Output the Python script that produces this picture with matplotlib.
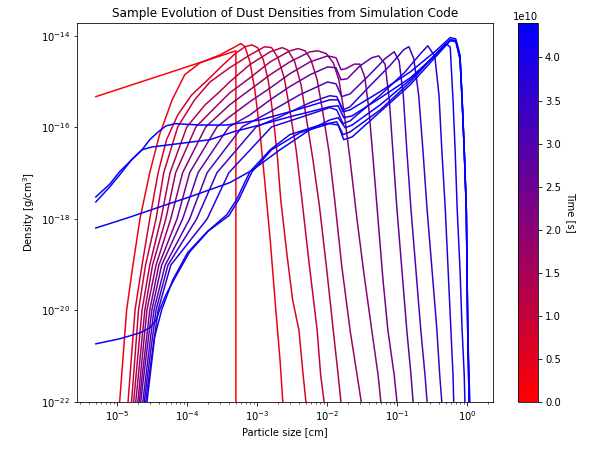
import numpy as np
import matplotlib
matplotlib.use("Agg")
import matplotlib.pyplot as plt
from matplotlib.colors import LinearSegmentedColormap, Normalize
from matplotlib.cm import ScalarMappable
from matplotlib.ticker import NullLocator

# snapshot times [s]
times = [0.0, 3.385e9, 6.77e9, 1.015e10, 1.354e10, 1.692e10, 2.031e10, 2.369e10, 2.708e10,
         3.046e10, 3.385e10, 3.723e10, 4.062e10, 4.2e10, 4.3e10, 4.35e10, 4.4e10]

log_a_00 = [-5.30, -3.30, -3.30]
log_rho_00 = [-15.33, -14.33, -23.0]

log_a_01 = [-4.96, -4.86, -4.77, -4.67, -4.53, -4.39, -4.21, -4.03, -3.81, -3.53, -3.31,
            -3.23, -3.17, -3.10, -3.03, -2.96, -2.89, -2.81, -2.73, -2.67, -2.63]
log_rho_01 = [-22.0, -19.99, -19.01, -18.0, -16.99, -16.16, -15.40, -14.85, -14.59, -14.42, -14.24,
              -14.17, -14.24, -14.57, -15.18, -16.05, -17.15, -18.46, -19.99, -21.08, -22.0]

log_a_02 = [-4.84, -4.74, -4.64, -4.53, -4.41, -4.29, -4.13, -3.93, -3.70, -3.50, -3.31, -3.17,
            -3.07, -2.99, -2.91, -2.84, -2.77, -2.71, -2.66, -2.57, -2.49, -2.40, -2.34, -2.30]
log_rho_02 = [-22.0, -19.99, -19.01, -18.0, -16.99, -16.27, -15.73, -15.29, -14.96, -14.66, -14.39, -14.24,
              -14.20, -14.26, -14.52, -14.96, -15.73, -16.60, -17.58, -18.79, -19.77, -20.43, -21.41, -22.0]

log_a_03 = [-4.79, -4.69, -4.59, -4.44, -4.33, -4.13, -3.89, -3.67, -3.39, -3.10, -2.89,
            -2.79, -2.70, -2.61, -2.53, -2.44, -2.36, -2.26, -2.14, -2.09, -2.04]
log_rho_03 = [-22.0, -19.99, -19.01, -18.0, -16.99, -15.99, -15.40, -15.01, -14.70, -14.42, -14.24,
              -14.26, -14.48, -14.92, -15.62, -16.49, -17.54, -18.90, -20.43, -21.41, -22.0]

log_a_04 = [-4.76, -4.64, -4.53, -4.37, -4.24, -4.00, -3.74, -3.53, -3.39, -3.10, -2.81,
            -2.64, -2.56, -2.46, -2.37, -2.29, -2.20, -2.11, -2.01, -1.91, -1.84, -1.80]
log_rho_04 = [-22.0, -19.99, -19.01, -18.0, -16.99, -15.99, -15.51, -15.22, -15.01, -14.63, -14.35,
              -14.26, -14.31, -14.57, -15.07, -15.84, -16.71, -17.69, -19.01, -20.43, -21.41, -22.0]

log_a_05 = [-4.73, -4.60, -4.49, -4.30, -4.16, -3.87, -3.60, -3.39, -3.10, -2.81, -2.53,
            -2.41, -2.31, -2.23, -2.14, -2.06, -1.97, -1.89, -1.79, -1.67, -1.57, -1.51]
log_rho_05 = [-22.0, -19.99, -19.01, -18.0, -16.99, -15.99, -15.57, -15.25, -14.92, -14.57, -14.33,
              -14.28, -14.33, -14.52, -14.96, -15.66, -16.54, -17.58, -19.01, -20.43, -21.41, -22.0]

log_a_06 = [-4.70, -4.57, -4.44, -4.23, -4.06, -3.73, -3.39, -3.10, -2.81, -2.53, -2.24,
            -2.13, -2.01, -1.91, -1.83, -1.76, -1.67, -1.57, -1.47, -1.36, -1.27, -1.23]
log_rho_06 = [-22.0, -19.99, -19.01, -18.0, -16.99, -15.99, -15.51, -15.18, -14.85, -14.57, -14.35,
              -14.33, -14.39, -14.59, -14.96, -15.62, -16.71, -18.02, -19.22, -20.43, -21.41, -22.0]

log_a_07 = [-4.68, -4.53, -4.40, -4.14, -3.96, -3.57, -3.39, -3.10, -2.81, -2.53, -2.24, -1.99, -1.87,
            -1.80, -1.73, -1.61, -1.53, -1.46, -1.40, -1.34, -1.27, -1.20, -1.13, -1.04, -1.00]
log_rho_07 = [-22.0, -19.99, -19.01, -18.0, -16.99, -15.99, -15.77, -15.44, -15.14, -14.83, -14.57, -14.44, -14.48,
              -14.74, -14.72, -14.62, -14.62, -14.90, -15.62, -16.71, -18.02, -19.33, -20.43, -21.41, -22.0]

log_a_08 = [-4.66, -4.50, -4.36, -4.06, -3.84, -3.40, -3.10, -2.81, -2.53, -2.24, -1.99, -1.87, -1.80,
            -1.71, -1.53, -1.36, -1.26, -1.17, -1.11, -1.06, -1.00, -0.93, -0.86, -0.80, -0.77]
log_rho_08 = [-22.0, -19.99, -19.01, -18.0, -16.99, -15.99, -15.73, -15.40, -15.11, -14.85, -14.68, -14.70, -14.96,
              -14.94, -14.66, -14.48, -14.44, -14.62, -15.40, -16.49, -17.80, -19.11, -20.43, -21.41, -22.0]

log_a_09 = [-4.63, -4.47, -4.31, -3.96, -3.71, -3.21, -2.81, -2.39, -1.99, -1.87, -1.79, -1.67,
            -1.39, -1.17, -1.04, -0.97, -0.91, -0.86, -0.80, -0.73, -0.66, -0.60, -0.57]
log_rho_09 = [-22.0, -19.99, -19.01, -18.0, -16.99, -15.99, -15.66, -15.29, -15.01, -15.05, -15.33, -15.27,
              -14.85, -14.50, -14.35, -14.55, -15.30, -16.49, -17.80, -19.11, -20.43, -21.41, -22.0]

log_a_10 = [-4.61, -4.44, -4.27, -3.86, -3.57, -3.01, -2.67, -2.24, -1.96, -1.86, -1.77, -1.67,
            -1.39, -1.10, -0.90, -0.83, -0.76, -0.69, -0.63, -0.57, -0.50, -0.43, -0.39, -0.36]
log_rho_10 = [-22.0, -19.99, -19.01, -18.0, -16.99, -15.99, -15.77, -15.46, -15.31, -15.33, -15.62, -15.55,
              -15.10, -14.65, -14.30, -14.24, -14.50, -15.30, -16.49, -17.80, -19.11, -20.43, -21.41, -22.0]

log_a_11 = [-4.59, -4.41, -4.23, -3.71, -3.40, -2.79, -2.39, -1.96, -1.86, -1.77, -1.67, -1.24,
            -0.89, -0.67, -0.56, -0.46, -0.40, -0.36, -0.31, -0.27, -0.23, -0.20, -0.19]
log_rho_11 = [-22.0, -19.99, -19.01, -18.0, -16.99, -15.99, -15.79, -15.57, -15.62, -15.92, -15.86, -15.30,
              -14.80, -14.40, -14.22, -14.45, -15.30, -16.49, -17.80, -19.11, -20.43, -21.41, -22.0]

log_a_12 = [-4.57, -4.46, -4.36, -4.20, -3.99, -3.71, -3.43, -3.29, -3.10, -2.81, -2.53, -2.10, -1.86, -1.77,
            -1.67, -1.24, -0.81, -0.46, -0.30, -0.24, -0.20, -0.17, -0.14, -0.10, -0.07, -0.04, -0.03]
log_rho_12 = [-22.0, -20.58, -19.99, -19.33, -18.74, -18.28, -17.91, -17.58, -16.97, -16.49, -16.16, -15.95, -15.88, -16.16,
              -16.10, -15.62, -15.01, -14.42, -14.17, -14.25, -15.40, -16.49, -17.80, -19.11, -20.43, -21.41, -22.0]

log_a_13 = [-5.30, -4.96, -4.67, -4.53, -4.44, -4.39, -4.30, -4.17, -3.96, -3.69, -3.40, -3.26, -3.07, -2.79, -2.39, -1.96,
            -1.84, -1.76, -1.64, -1.24, -0.81, -0.46, -0.24, -0.16, -0.10, -0.07, -0.04, -0.01, 0.00, 0.01, 0.03]
log_rho_13 = [-20.73, -20.62, -20.49, -20.38, -20.21, -19.99, -19.66, -19.29, -18.72, -18.26, -17.93, -17.58, -16.97, -16.49, -16.12, -15.92,
              -15.95, -16.27, -16.21, -15.66, -15.07, -14.48, -14.11, -14.13, -14.52, -15.40, -16.49, -17.80, -19.11, -20.43, -22.0]

log_a_14 = [-5.30, -4.81, -4.39, -3.96, -3.39, -3.06, -2.67, -2.24, -1.96, -1.84, -1.74, -1.64,
            -1.24, -0.81, -0.46, -0.24, -0.16, -0.10, -0.07, -0.04, -0.01, 0.00, 0.01, 0.03]
log_rho_14 = [-18.20, -17.96, -17.74, -17.52, -17.21, -16.93, -16.49, -16.05, -15.84, -15.79, -16.01, -15.95,
              -15.51, -14.96, -14.42, -14.09, -14.11, -14.48, -15.40, -16.49, -17.80, -19.11, -20.43, -22.0]

log_a_15 = [-5.30, -5.10, -4.96, -4.79, -4.64, -4.50, -4.24, -4.03, -3.67, -3.34, -2.96, -2.53, -2.24, -1.96, -1.84,
            -1.76, -1.64, -1.24, -0.81, -0.46, -0.24, -0.16, -0.10, -0.07, -0.04, -0.01, 0.00, 0.01, 0.03]
log_rho_15 = [-17.63, -17.30, -17.04, -16.71, -16.49, -16.43, -16.38, -16.34, -16.27, -16.10, -15.95, -15.77, -15.66, -15.55, -15.53,
              -15.79, -15.75, -15.36, -14.92, -14.44, -14.09, -14.11, -14.48, -15.40, -16.49, -17.80, -19.11, -20.43, -22.0]

log_a_16 = [-5.30, -5.10, -4.96, -4.79, -4.64, -4.53, -4.41, -4.30, -4.17, -3.81, -3.43, -2.96, -2.53, -2.24, -1.96,
            -1.84, -1.77, -1.67, -1.24, -0.81, -0.46, -0.24, -0.16, -0.10, -0.07, -0.04, -0.01, 0.00, 0.01, 0.04]
log_rho_16 = [-17.52, -17.24, -16.97, -16.71, -16.49, -16.27, -16.10, -15.97, -15.92, -15.95, -15.95, -15.84, -15.66, -15.53, -15.40,
              -15.40, -15.66, -15.62, -15.22, -14.79, -14.35, -14.04, -14.07, -14.42, -15.40, -16.49, -17.80, -19.11, -20.43, -22.0]

sizes = [log_a_00, log_a_01, log_a_02, log_a_03, log_a_04, log_a_05, log_a_06, log_a_07, log_a_08,
         log_a_09, log_a_10, log_a_11, log_a_12, log_a_13, log_a_14, log_a_15, log_a_16]
densities = [log_rho_00, log_rho_01, log_rho_02, log_rho_03, log_rho_04, log_rho_05, log_rho_06, log_rho_07, log_rho_08,
             log_rho_09, log_rho_10, log_rho_11, log_rho_12, log_rho_13, log_rho_14, log_rho_15, log_rho_16]

ytick_vals = [1e-22, 1e-20, 1e-18, 1e-16, 1e-14]

cmap = LinearSegmentedColormap.from_list("red_blue", ["red", "blue"])
norm = Normalize(vmin=0, vmax=4.4e10)

fig = plt.figure(figsize=(591 / 72, 449 / 72), dpi=72)
ax = fig.add_axes([0.1303, 0.1047, 0.7039, 0.8441])
cax = fig.add_axes([0.8765, 0.1047, 0.0338, 0.8441])

for t, a, rho in zip(times, sizes, densities):
    ax.plot(10 ** np.array(a), 10 ** np.array(rho), color=cmap(norm(t)), lw=1.5)

ax.set_xscale("log")
ax.set_yscale("log")
ax.set_xlim(2.7e-6, 2.35)
ax.set_ylim(1e-22, 1.9e-14)
ax.set_yticks(ytick_vals)
ax.yaxis.set_minor_locator(NullLocator())
ax.set_xlabel("Particle size [cm]")
ax.set_ylabel("Density [g/cm$^3$]")
ax.set_title("Sample Evolution of Dust Densities from Simulation Code")

sm = ScalarMappable(norm=norm, cmap=cmap)
cbar = fig.colorbar(sm, cax=cax)
cbar.set_label("Time [s]", rotation=270, labelpad=15)

fig.savefig("out.png", dpi=72)
